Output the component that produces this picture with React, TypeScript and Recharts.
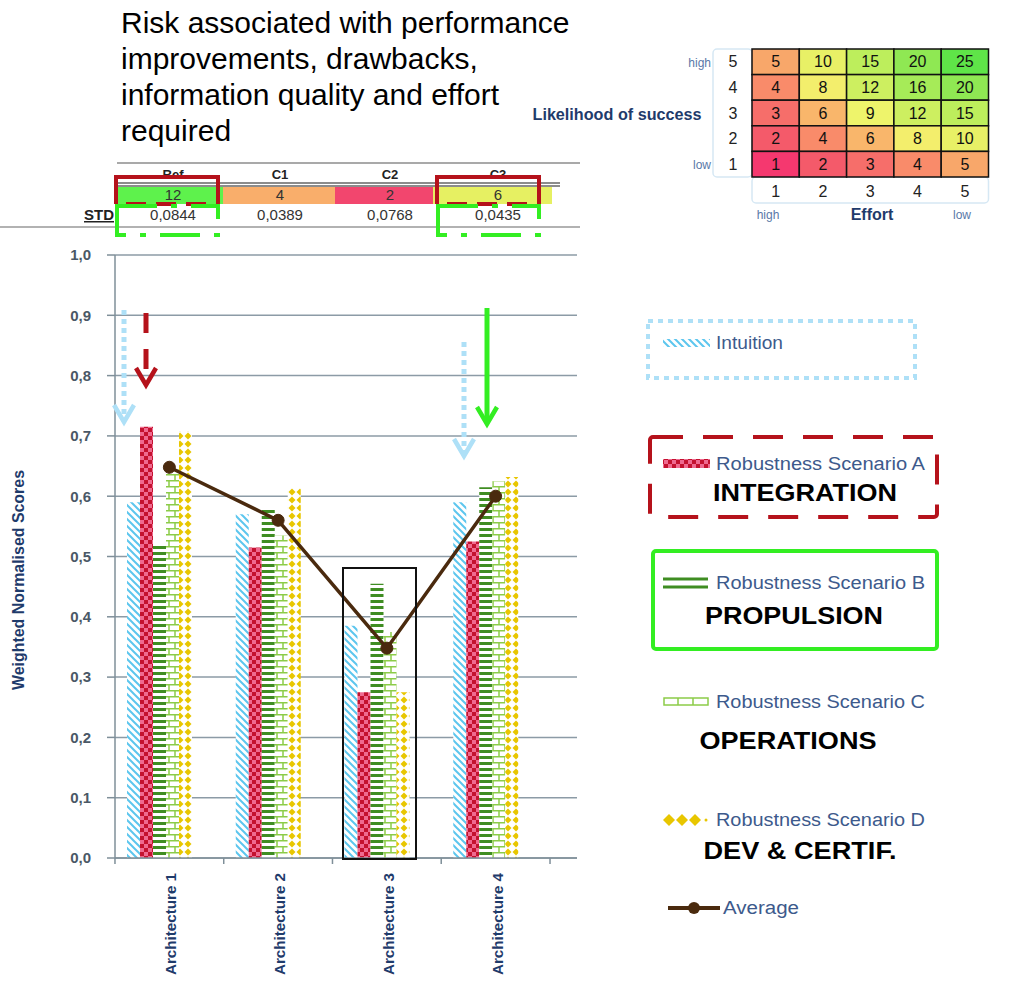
import React from 'react';
import { ComposedChart, Bar, Line, XAxis, YAxis, CartesianGrid } from 'recharts';

const categories = ['Architecture 1', 'Architecture 2', 'Architecture 3', 'Architecture 4'];
const intuition = [0.59, 0.57, 0.385, 0.59];
const scenarioA = [0.715, 0.515, 0.275, 0.525];
const scenarioB = [0.52, 0.577, 0.455, 0.615];
const scenarioC = [0.645, 0.535, 0.375, 0.625];
const scenarioD = [0.708, 0.613, 0.275, 0.632];
const average = [0.648, 0.56, 0.348, 0.6];
const yTicks = [0, 0.1, 0.2, 0.3, 0.4, 0.5, 0.6, 0.7, 0.8, 0.9, 1.0];

const riskColumns = ['Ref', 'C1', 'C2', 'C3'];
const riskScores = [12, 4, 2, 6];
const riskStd = ['0,0844', '0,0389', '0,0768', '0,0435'];

const likelihoodLevels = [5, 4, 3, 2, 1];
const effortLevels = [1, 2, 3, 4, 5];
const matrixValues = [
  [5, 10, 15, 20, 25],
  [4, 8, 12, 16, 20],
  [3, 6, 9, 12, 15],
  [2, 4, 6, 8, 10],
  [1, 2, 3, 4, 5],
];

const MATRIX_COLORS: Record<number, string> = {
  1: '#f5386f', 2: '#f45a6a', 3: '#f66e6a', 4: '#f98b6a', 5: '#f8a76a',
  6: '#f9b66b', 8: '#f3ee6c', 9: '#eef46b', 10: '#e8f066', 12: '#cdef60',
  15: '#bdee5c', 16: '#a6eb58', 20: '#8fe853', 25: '#5fe448',
};
const SCORE_COLORS = ['#5ef24c', '#f9ae6b', '#f2466e', '#e6f062'];

const FONT = '"Liberation Sans", Arial, sans-serif';
const NAVY = '#1f3b6b';
const LEGEND_TEXT = '#3d5a8c';
const RED = '#b5121b';
const GREEN = '#33ee22';
const LIGHT_BLUE = '#aee0f7';

const data = categories.map((name, i) => ({
  name,
  intuition: intuition[i],
  a: scenarioA[i],
  b: scenarioB[i],
  c: scenarioC[i],
  d: scenarioD[i],
  average: average[i],
}));

function Patterns({ p }: { p: string }) {
  return (
    <defs>
      <pattern id={`${p}-hatch`} width="7" height="7" patternUnits="userSpaceOnUse">
        <rect width="7" height="7" fill="#fff" />
        <path d="M-1,-1 L8,8 M-1,6 L1,8 M6,-1 L8,1" stroke="#5cc6ee" strokeWidth="2" />
      </pattern>
      <pattern id={`${p}-check`} width="8" height="8" patternUnits="userSpaceOnUse">
        <rect width="8" height="8" fill="#ef6a90" />
        <rect x="0" y="0" width="4" height="4" fill="#c4122f" />
        <rect x="4" y="4" width="4" height="4" fill="#c4122f" />
      </pattern>
      <pattern id={`${p}-hlines`} width="6" height="6" patternUnits="userSpaceOnUse">
        <rect width="6" height="6" fill="#fff" />
        <rect y="0" width="6" height="3" fill="#3f8d22" />
      </pattern>
      <pattern id={`${p}-brick`} width="12" height="12" patternUnits="userSpaceOnUse">
        <rect width="12" height="12" fill="#fff" />
        <path d="M0,0.75 H12 M0,6.75 H12 M1,0.75 V6.75 M7,6.75 V12" stroke="#8ccc48" strokeWidth="1.5" />
      </pattern>
      <pattern id={`${p}-diamond`} width="8" height="8" patternUnits="userSpaceOnUse">
        <rect width="8" height="8" fill="#fff" />
        <path d="M4,0.5 L7.5,4 L4,7.5 L0.5,4 Z" fill="#e8c600" />
      </pattern>
    </defs>
  );
}

function ArchTick(props: any) {
  const { x, y, payload, index } = props;
  const half = 54.4;
  return (
    <g>
      <line x1={x - half} x2={x - half} y1={y} y2={y + 6} stroke="#7f8f99" strokeWidth={1.5} />
      {index === categories.length - 1 && (
        <line x1={x + half} x2={x + half} y1={y} y2={y + 6} stroke="#7f8f99" strokeWidth={1.5} />
      )}
      <text
        x={0}
        y={0}
        transform={`translate(${x + 7},${y + 15}) rotate(-90)`}
        textAnchor="end"
        fill={NAVY}
        fontFamily={FONT}
        fontWeight="bold"
        fontSize={15}
        textLength={102}
        lengthAdjust="spacingAndGlyphs"
      >
        {payload.value}
      </text>
    </g>
  );
}

function Arrow({ x, y1, y2, color, dash, width }: { x: number; y1: number; y2: number; color: string; dash?: string; width: number }) {
  return (
    <g>
      <line x1={x} x2={x} y1={y1} y2={y2 - 4} stroke={color} strokeWidth={width} strokeDasharray={dash} />
      <polyline
        points={`${x - 10},${y2 - 17} ${x},${y2} ${x + 10},${y2 - 17}`}
        fill="none"
        stroke={color}
        strokeWidth={4.5}
      />
    </g>
  );
}

function Overlay() {
  const cellW = 47.3;
  const cellH = 25.6;
  const mx = 752;
  const my = 49;
  const tableCols = [
    { x: 118, w: 105, c: 173 },
    { x: 223, w: 112, c: 280 },
    { x: 335, w: 98, c: 390 },
    { x: 433, w: 119, c: 498 },
  ];
  return (
    <svg
      width={1011}
      height={983}
      style={{ position: 'absolute', left: 0, top: 0, pointerEvents: 'none' }}
      fontFamily={FONT}
    >
      <Patterns p="lg" />
      {/* title */}
      <g fontSize={30} fill="#000">
        <text x={121} y={33}>Risk associated with performance</text>
        <text x={121} y={69}>improvements, drawbacks,</text>
        <text x={121} y={105}>information quality and effort</text>
        <text x={121} y={141}>required</text>
      </g>

      {/* risk table */}
      <line x1={117} x2={580} y1={163} y2={163} stroke="#555" strokeWidth={1.2} />
      {riskColumns.map((c, i) => (
        <text key={c} x={tableCols[i].c} y={179} textAnchor="middle" fontSize={13} fontWeight="bold" fill="#222">
          {c}
        </text>
      ))}
      <line x1={117} x2={560} y1={183} y2={183} stroke="#666" strokeWidth={1.5} />
      <line x1={117} x2={560} y1={186} y2={186} stroke="#666" strokeWidth={1.5} />
      {riskScores.map((s, i) => (
        <g key={i}>
          <rect x={tableCols[i].x} y={187} width={tableCols[i].w} height={17} fill={SCORE_COLORS[i]} />
          <text x={tableCols[i].c} y={200} textAnchor="middle" fontSize={15} fill="#333">
            {s}
          </text>
        </g>
      ))}
      <text x={114} y={220} textAnchor="end" fontSize={15} fontWeight="bold" fill="#222" textDecoration="underline">
        STD
      </text>
      {riskStd.map((s, i) => (
        <text key={i} x={tableCols[i].c} y={220} textAnchor="middle" fontSize={15} fill="#333">
          {s}
        </text>
      ))}
      <line x1={0} x2={580} y1={227} y2={227} stroke="#666" strokeWidth={1.2} />
      {[116, 437].map((bx) => (
        <g key={bx}>
          <path d={`M${bx},204 V177 H${bx + 102} V204`} fill="none" stroke={RED} strokeWidth={4} />
          <line x1={bx + 10} x2={bx + 102} y1={204} y2={204} stroke={RED} strokeWidth={4} strokeDasharray="20 10" />
          <rect x={bx + 1} y={206} width={101} height={29} fill="none" stroke={GREEN} strokeWidth={4} strokeDasharray="40 14 6 14" />
        </g>
      ))}

      {/* risk matrix */}
      <rect x={713} y={my} width={39} height={cellH * 5} rx={4} fill="none" stroke="#d6e8f4" strokeWidth={1.5} />
      <rect x={mx} y={my + cellH * 5} width={cellW * 5} height={26} rx={4} fill="none" stroke="#d6e8f4" strokeWidth={1.5} />
      {matrixValues.map((row, r) =>
        row.map((v, c) => (
          <g key={`${r}-${c}`}>
            <rect x={mx + c * cellW} y={my + r * cellH} width={cellW} height={cellH} fill={MATRIX_COLORS[v]} stroke="#111" strokeWidth={1.5} />
            <text x={mx + c * cellW + cellW / 2} y={my + r * cellH + cellH / 2 + 5.5} textAnchor="middle" fontSize={16} fill="#111">
              {v}
            </text>
          </g>
        )),
      )}
      {likelihoodLevels.map((l, r) => (
        <text key={l} x={733} y={my + r * cellH + cellH / 2 + 5.5} textAnchor="middle" fontSize={16} fill="#222">
          {l}
        </text>
      ))}
      {effortLevels.map((e, c) => (
        <text key={e} x={mx + c * cellW + cellW / 2} y={197} textAnchor="middle" fontSize={16} fill="#222">
          {e}
        </text>
      ))}
      <text x={711} y={67} textAnchor="end" fontSize={12} fill="#5a78a8">high</text>
      <text x={711} y={169} textAnchor="end" fontSize={12} fill="#5a78a8">low</text>
      <text x={617} y={120} textAnchor="middle" fontSize={16} fontWeight="bold" fill={NAVY} textLength={169} lengthAdjust="spacingAndGlyphs">
        Likelihood of success
      </text>
      <text x={768} y={219} textAnchor="middle" fontSize={12} fill="#5a78a8">high</text>
      <text x={872} y={220} textAnchor="middle" fontSize={16} fontWeight="bold" fill={NAVY}>Effort</text>
      <text x={962} y={219} textAnchor="middle" fontSize={12} fill="#5a78a8">low</text>

      {/* y-axis title */}
      <text
        transform="translate(24,580) rotate(-90)"
        textAnchor="middle"
        fontSize={17}
        fontWeight="bold"
        fill={NAVY}
        textLength={220}
        lengthAdjust="spacingAndGlyphs"
      >
        Weighted Normalised Scores
      </text>

      {/* annotations on the plot */}
      <Arrow x={124} y1={310} y2={422} color={LIGHT_BLUE} dash="5 4" width={5} />
      <Arrow x={146} y1={313} y2={385} color={RED} dash="20 16" width={5} />
      <Arrow x={464} y1={342} y2={456} color={LIGHT_BLUE} dash="5 4" width={5} />
      <Arrow x={487} y1={308} y2={424} color={GREEN} width={5} />
      <rect x={343} y={568} width={73} height={291} fill="none" stroke="#111" strokeWidth={2} />

      {/* legend */}
      <rect x={648} y={321} width={267} height={57} fill="none" stroke={LIGHT_BLUE} strokeWidth={4} strokeDasharray="5 5" />
      <rect x={663} y={339} width={47} height={8} fill="url(#lg-hatch)" />
      <text x={716} y={349} fontSize={18} fill={LEGEND_TEXT} textLength={67} lengthAdjust="spacingAndGlyphs">Intuition</text>

      <rect x={650} y={437} width={287} height={80} rx={3} fill="none" stroke={RED} strokeWidth={4} strokeDasharray="30 20" />
      <rect x={663} y={459} width={47} height={9} fill="url(#lg-check)" />
      <text x={716} y={470} fontSize={18} fill={LEGEND_TEXT} textLength={209} lengthAdjust="spacingAndGlyphs">Robustness Scenario A</text>
      <text x={805} y={501} textAnchor="middle" fontSize={24} fontWeight="bold" fill="#000" textLength={184} lengthAdjust="spacingAndGlyphs">INTEGRATION</text>

      <rect x={653} y={551} width={284} height={98} rx={3} fill="none" stroke={GREEN} strokeWidth={4} />
      <line x1={663} x2={708} y1={579} y2={579} stroke="#3f8d22" strokeWidth={3} />
      <line x1={663} x2={708} y1={587} y2={587} stroke="#3f8d22" strokeWidth={3} />
      <text x={716} y={589} fontSize={18} fill={LEGEND_TEXT} textLength={209} lengthAdjust="spacingAndGlyphs">Robustness Scenario B</text>
      <text x={794} y={624} textAnchor="middle" fontSize={24} fontWeight="bold" fill="#000" textLength={178} lengthAdjust="spacingAndGlyphs">PROPULSION</text>

      <rect x={664} y={698} width={44} height={7} fill="#fff" stroke="#8ccc48" strokeWidth={1.5} />
      <path d="M678,698 V705 M693,698 V705" stroke="#8ccc48" strokeWidth={1.5} />
      <text x={716} y={708} fontSize={18} fill={LEGEND_TEXT} textLength={209} lengthAdjust="spacingAndGlyphs">Robustness Scenario C</text>
      <text x={788} y={749} textAnchor="middle" fontSize={24} fontWeight="bold" fill="#000" textLength={177} lengthAdjust="spacingAndGlyphs">OPERATIONS</text>

      {[669, 682, 695].map((dx) => (
        <path key={dx} d={`M${dx},814 L${dx + 6},820 L${dx},826 L${dx - 6},820 Z`} fill="#e8c600" />
      ))}
      <circle cx={706} cy={820} r={1.5} fill="#e8c600" />
      <text x={716} y={826} fontSize={18} fill={LEGEND_TEXT} textLength={209} lengthAdjust="spacingAndGlyphs">Robustness Scenario D</text>
      <text x={800} y={859} textAnchor="middle" fontSize={24} fontWeight="bold" fill="#000" textLength={193} lengthAdjust="spacingAndGlyphs">DEV &amp; CERTIF.</text>

      <line x1={668} x2={720} y1={908} y2={908} stroke="#4a2a0e" strokeWidth={4} />
      <circle cx={694} cy={908} r={6} fill="#4a2a0e" />
      <text x={723} y={914} fontSize={18} fill={LEGEND_TEXT} textLength={76} lengthAdjust="spacingAndGlyphs">Average</text>
    </svg>
  );
}

export default function App() {
  return (
    <div style={{ position: 'absolute', left: 0, top: 0, width: 1011, height: 983, background: '#fff', fontFamily: FONT }}>
      <ComposedChart
        width={1011}
        height={983}
        data={data}
        margin={{ top: 255, right: 434, bottom: 0, left: 0 }}
        barGap={0}
      >
        <Patterns p="ch" />
        <CartesianGrid xAxisId="cat" vertical={false} stroke="#8c9ba6" strokeWidth={1.5} />
        <XAxis xAxisId="bars" dataKey="name" hide height={0} padding={{ left: -10, right: 37 }} />
        <XAxis
          xAxisId="cat"
          dataKey="name"
          height={125}
          padding={{ left: 0, right: 27 }}
          axisLine={{ stroke: '#7f8f99', strokeWidth: 1.5 }}
          tickLine={false}
          tickSize={0}
          tickMargin={0}
          interval={0}
          tick={<ArchTick />}
        />
        <YAxis
          domain={[0, 1]}
          ticks={yTicks}
          interval={0}
          width={115}
          tickFormatter={(v: number) => v.toFixed(1).replace('.', ',')}
          axisLine={{ stroke: '#7f8f99', strokeWidth: 1.5 }}
          tickLine={{ stroke: '#7f8f99', strokeWidth: 1.5 }}
          tickSize={8}
          tickMargin={16}
          tick={{ fill: '#4a5866', fontSize: 15, fontWeight: 'bold', fontFamily: FONT }}
        />
        <Bar xAxisId="bars" dataKey="intuition" fill="url(#ch-hatch)" barSize={13} isAnimationActive={false} />
        <Bar xAxisId="bars" dataKey="a" fill="url(#ch-check)" barSize={13} isAnimationActive={false} />
        <Bar xAxisId="bars" dataKey="b" fill="url(#ch-hlines)" barSize={13} isAnimationActive={false} />
        <Bar xAxisId="bars" dataKey="c" fill="url(#ch-brick)" barSize={13} isAnimationActive={false} />
        <Bar xAxisId="bars" dataKey="d" fill="url(#ch-diamond)" barSize={13} isAnimationActive={false} />
        <Line
          xAxisId="cat"
          dataKey="average"
          stroke="#4a2a0e"
          strokeWidth={3.5}
          dot={{ r: 6, fill: '#4a2a0e', stroke: '#4a2a0e', strokeWidth: 1 }}
          isAnimationActive={false}
        />
      </ComposedChart>
      <Overlay />
    </div>
  );
}
